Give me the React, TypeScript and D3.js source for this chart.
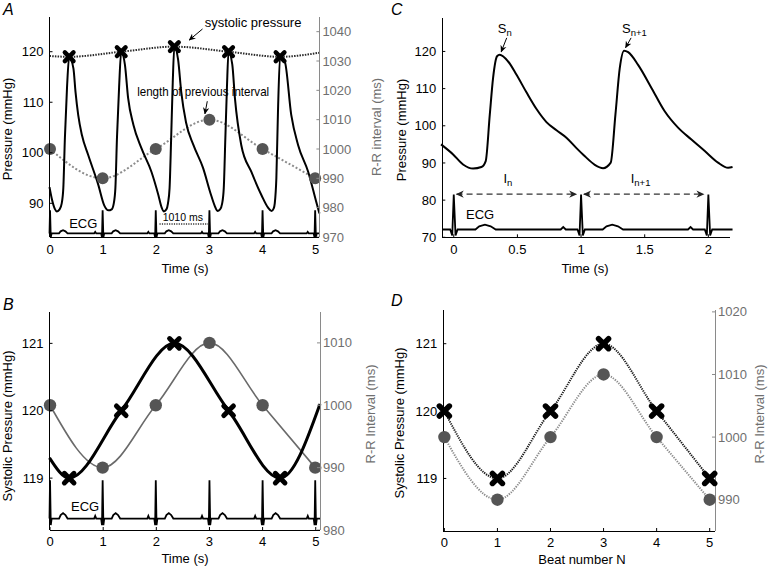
import React from "react";
import * as d3 from "d3";

const W = 770;
const H = 570;
const FONT = "'Liberation Sans', Arial, Helvetica, sans-serif";
const GREY_TXT = "#6f6f6f";
const GREY_AX = "#8a8a8a";
const DOT_FILL = "#555";

// ---- beats shared by panels A and B ----
const rPeakTimes = [0, 0.99, 1.99, 3.0, 4.0, 4.99]; // s
const rrPrev = [1000, 990, 1000, 1010, 1000, 990]; // ms, length of previous interval
const sysTimes = [0.36, 1.34, 2.34, 3.36, 4.33]; // s
const sysValues = [119, 120, 121, 120, 119]; // mmHg

// ---- panel A: arterial pressure trace ----
const pressTA = [
  -0.01, 0.04, 0.09, 0.13, 0.18, 0.22, 0.25, 0.28, 0.32, 0.36,
  0.44, 0.48, 0.53, 0.6, 0.72, 0.91, 1.02, 1.1, 1.16, 1.2, 1.23, 1.26, 1.3, 1.34,
  1.41, 1.47, 1.57, 1.72, 1.91, 2.04, 2.1, 2.14, 2.19, 2.22, 2.25, 2.28, 2.31, 2.34,
  2.41, 2.47, 2.56, 2.7, 2.88, 3.02, 3.1, 3.15, 3.2, 3.24, 3.27, 3.3, 3.33, 3.36,
  3.43, 3.48, 3.6, 3.79, 3.98, 4.1, 4.17, 4.21, 4.23, 4.26, 4.29, 4.33,
  4.42, 4.54, 4.67, 4.86, 5.01, 5.07,
];
const pressPA = [
  93.2, 90.6, 88.9, 88.4, 88.8, 90, 93, 103, 113, 119,
  116.7, 112, 107.5, 103.5, 99.5, 93.6, 89.6, 88.6, 88.8, 90, 93, 103, 113, 120,
  117.4, 110.8, 105.5, 100.9, 96.2, 91.6, 89.2, 88.4, 88.8, 90, 93, 103, 114, 121,
  118.5, 112, 106, 101.5, 97, 92, 89.5, 88.5, 88.8, 90, 93, 103, 113, 120,
  117.5, 110.8, 101.5, 96.2, 91.6, 89.2, 88.5, 89, 90, 95, 108, 119,
  118, 107.5, 101.5, 96.2, 90.3, 88,
];
// dotted systolic envelope: edge values
const envStartA = 119.15;
const envEndA = 119.8;

// ---- panel B: smooth curves ----
const sysCurveStartB = 119.3;
const sysCurveEndB = 120.1;

// ---- panel C: two beats ----
const pressTC = [
  -0.1, -0.005, 0.073, 0.152, 0.217, 0.251, 0.283, 0.309, 0.34, 0.361,
  0.427, 0.492, 0.571, 0.65, 0.728, 0.807, 0.885, 0.964, 1.03, 1.108, 1.173, 1.233,
  1.27, 1.304, 1.338, 1.37, 1.448, 1.553, 1.657, 1.762, 1.867, 1.972, 2.076, 2.155, 2.19,
];
const pressPC = [
  95, 92.3, 89.6, 88.5, 88.9, 90.5, 103, 112.9, 118.7, 119.1,
  117.3, 113.8, 109, 104.5, 101, 98.8, 96.8, 94, 91.8, 89.5, 88.6, 90.1,
  103, 115.5, 120.2, 119.8, 116.4, 110.2, 103.9, 99.5, 96.3, 93.2, 90.1, 88.7, 88.9,
];
const rPeakC = [0, 1, 2];
const peakTC = [0.361, 1.338];
const peakPC = [119.1, 120.2];
const peakSubC = ["n", "n+1"];

// ---- panel D: beat-by-beat ----
const beatN = [0, 1, 2, 3, 4, 5];
const sysD = [120, 119, 120, 121, 120, 119];
const rrD = [1000, 990, 1000, 1010, 1000, 990];

// ---- ECG beat template (offset from R wave in s, relative amplitude) ----
const ecgOffsets = [-0.16, -0.14, -0.12, -0.028, -0.012, 0, 0.014, 0.03, 0.17, 0.2, 0.245, 0.29, 0.33];
const ecgAmps = [0, 0.07, 0, 0, -0.17, 1, -0.17, 0, 0, 0.09, 0.14, 0.09, 0];

function ecgPoints(rTimes: number[], t0: number, t1: number) {
  const pts: [number, number][] = [[t0, 0]];
  rTimes.forEach((r) =>
    ecgOffsets.forEach((o, i) => {
      const t = r + o;
      if (t > t0 && t < t1) pts.push([t, ecgAmps[i]]);
    })
  );
  pts.push([t1, 0]);
  return pts.sort((a, b) => a[0] - b[0]);
}

const zip = (a: number[], b: number[]) => a.map((v, i) => [v, b[i]] as [number, number]);

function smoothPath(x: any, y: any, pts: [number, number][], curve: any = d3.curveMonotoneX) {
  return d3.line<[number, number]>().x((d) => x(d[0])).y((d) => y(d[1])).curve(curve)(pts) || "";
}

function Cross({ cx, cy, r = 4.5, w = 4.5 }: any) {
  return (
    <path
      d={`M${cx - r},${cy - r}L${cx + r},${cy + r}M${cx - r},${cy + r}L${cx + r},${cy - r}`}
      stroke="#000"
      strokeWidth={w}
      strokeLinecap="round"
      fill="none"
    />
  );
}

function LeftAxis({ y, x, ticks, fmt = String }: any) {
  const [y0, y1] = y.range();
  return (
    <g>
      <line x1={x} x2={x} y1={y0} y2={y1} stroke="#000" shapeRendering="crispEdges" />
      {ticks.map((t: number) => (
        <g key={t}>
          <line x1={x} x2={x + 3} y1={y(t)} y2={y(t)} stroke="#000" />
          <text x={x - 6} y={y(t)} dy="0.35em" textAnchor="end">{fmt(t)}</text>
        </g>
      ))}
    </g>
  );
}

function RightAxis({ y, x, ticks }: any) {
  const [y0, y1] = y.range();
  return (
    <g>
      <line x1={x} x2={x} y1={y0} y2={y1} stroke={GREY_AX} shapeRendering="crispEdges" />
      {ticks.map((t: number) => (
        <g key={t}>
          <line x1={x} x2={x - 3} y1={y(t)} y2={y(t)} stroke={GREY_AX} />
          <text x={x + 3} y={y(t)} dy="0.35em" textAnchor="start" fill={GREY_TXT}>{t}</text>
        </g>
      ))}
    </g>
  );
}

function BottomAxis({ x, y, ticks, off = 17 }: any) {
  const [x0, x1] = x.range();
  return (
    <g>
      <line x1={x0} x2={x1} y1={y} y2={y} stroke="#000" shapeRendering="crispEdges" />
      {ticks.map((t: number) => (
        <g key={t}>
          <line x1={x(t)} x2={x(t)} y1={y} y2={y - 3} stroke="#000" />
          <text x={x(t)} y={y + off} textAnchor="middle">{String(t)}</text>
        </g>
      ))}
    </g>
  );
}

function VTitle({ x, y, text, fill = "#000" }: any) {
  return (
    <text transform={`translate(${x},${y}) rotate(-90)`} textAnchor="middle" dy="0.35em" fill={fill}>
      {text}
    </text>
  );
}

function PanelA() {
  const x = d3.scaleLinear().domain([-0.01, 5.07]).range([49.5, 319.4]);
  const y = d3.scaleLinear().domain([83.33, 126.87]).range([237, 17]);
  const yr = d3.scaleLinear().domain([970, 1045]).range([237, 17]);
  const ecg = ecgPoints(rPeakTimes, -0.01, 5.07);
  const ecgBase = 84.04;
  const ecgGain = 4.6;
  const env = zip([-0.01, ...sysTimes, 5.07], [envStartA, ...sysValues, envEndA]);
  const rr = zip(rPeakTimes, rrPrev);
  return (
    <g>
      <text x={3} y={15} fontSize={16} fontStyle="italic">A</text>
      <path d={smoothPath(x, yr, rr)} fill="none" stroke="#8c8c8c" strokeWidth={2} strokeDasharray="2 2" />
      <path d={smoothPath(x, y, env)} fill="none" stroke="#2a2a2a" strokeWidth={2} strokeDasharray="1.5 1.2" />
      <path d={smoothPath(x, y, zip(pressTA, pressPA))} fill="none" stroke="#000" strokeWidth={2} />
      <path
        d={d3.line<[number, number]>().x((d) => x(d[0])).y((d) => y(ecgBase + ecgGain * d[1]))(ecg) || ""}
        fill="none"
        stroke="#000"
        strokeWidth={1.8}
      />
      {rr.map((d, i) => (
        <circle key={i} cx={x(d[0])} cy={yr(d[1])} r={6} fill={DOT_FILL} />
      ))}
      {sysTimes.map((t, i) => (
        <Cross key={i} cx={x(t)} cy={y(sysValues[i])} r={4.3} w={4.5} />
      ))}
      {/* annotations */}
      <text x={x(2.91)} y={y(124.9)}>systolic pressure</text>
      <line x1={x(2.87)} y1={y(124.5)} x2={x(2.62)} y2={y(122.3)} stroke="#000" strokeWidth={1} markerEnd="url(#arrSmall)" />
      <text x={x(1.64)} y={y(111.3)} textLength={132} lengthAdjust="spacingAndGlyphs">length of previous interval</text>
      <line x1={x(2.96)} y1={y(110.2)} x2={x(2.915)} y2={y(107.7)} stroke="#000" strokeWidth={1} markerEnd="url(#arrSmall)" />
      <line
        x1={x(rPeakTimes[2] + 0.07)}
        x2={x(rPeakTimes[3] - 0.02)}
        y1={y(85.9)}
        y2={y(85.9)}
        stroke="#333"
        strokeWidth={1.5}
        strokeDasharray="1.2 1.2"
      />
      <text x={x(2.12)} y={y(86.5)} fontSize={10.5}>{`${rrPrev[3]} ms`}</text>
      <text x={x(0.36)} y={y(85.05)}>ECG</text>
      <LeftAxis y={y} x={49.5} ticks={[90, 100, 110, 120]} />
      <RightAxis y={yr} x={319.4} ticks={d3.range(970, 1041, 10)} />
      <BottomAxis x={x} y={237} ticks={[0, 1, 2, 3, 4, 5]} />
      <text x={185} y={273} textAnchor="middle">Time (s)</text>
      <VTitle x={7.5} y={129} text="Pressure (mmHg)" />
      <VTitle x={376} y={127} text="R-R interval (ms)" fill={GREY_TXT} />
    </g>
  );
}

function PanelB() {
  const x = d3.scaleLinear().domain([-0.01, 5.08]).range([49.5, 320]);
  const y = d3.scaleLinear().domain([118.23, 121.47]).range([530, 311.7]);
  const yr = d3.scaleLinear().domain([980, 1015]).range([530, 311.7]);
  const ecg = ecgPoints(rPeakTimes, -0.01, 5.08);
  const ecgBase = 118.4;
  const ecgGain = 0.57;
  const sys = zip([-0.01, ...sysTimes, 5.08], [sysCurveStartB, ...sysValues, sysCurveEndB]);
  const rr = zip(rPeakTimes, rrPrev);
  return (
    <g>
      <text x={3} y={310} fontSize={16} fontStyle="italic">B</text>
      <path
        d={d3.line<[number, number]>().x((d) => x(d[0])).y((d) => y(ecgBase + ecgGain * d[1]))(ecg) || ""}
        fill="none"
        stroke="#000"
        strokeWidth={1.8}
      />
      <text x={x(0.395)} y={y(118.51)}>ECG</text>
      <path d={smoothPath(x, yr, rr)} fill="none" stroke="#6a6a6a" strokeWidth={1.6} />
      <path d={smoothPath(x, y, sys)} fill="none" stroke="#000" strokeWidth={3} />
      {rr.map((d, i) => (
        <circle key={i} cx={x(d[0])} cy={yr(d[1])} r={6.2} fill={DOT_FILL} />
      ))}
      {sysTimes.map((t, i) => (
        <Cross key={i} cx={x(t)} cy={y(sysValues[i])} r={4.8} w={5} />
      ))}
      <LeftAxis y={y} x={49.5} ticks={[119, 120, 121]} />
      <RightAxis y={yr} x={320} ticks={[980, 990, 1000, 1010]} />
      <BottomAxis x={x} y={530} ticks={[0, 1, 2, 3, 4, 5]} off={16} />
      <text x={185} y={563} textAnchor="middle">Time (s)</text>
      <VTitle x={7.5} y={426} text="Systolic Pressure (mmHg)" />
      <VTitle x={370} y={414} text="R-R Interval (ms)" fill={GREY_TXT} />
    </g>
  );
}

function PanelC() {
  const x = d3.scaleLinear().domain([-0.09, 2.17]).range([442.3, 730]);
  const y = d3.scaleLinear().domain([70, 129]).range([237.3, 18]);
  const ecg = ecgPoints(rPeakC, -0.09, 2.19);
  const ecgBase = 72.1;
  const ecgGain = 9.4;
  const arrowP = 81.6;
  return (
    <g>
      <text x={391} y={15} fontSize={16} fontStyle="italic">C</text>
      <path d={smoothPath(x, y, zip(pressTC, pressPC))} fill="none" stroke="#000" strokeWidth={2} />
      <path
        d={d3.line<[number, number]>().x((d) => x(d[0])).y((d) => y(ecgBase + ecgGain * d[1]))(ecg) || ""}
        fill="none"
        stroke="#000"
        strokeWidth={1.8}
      />
      <text x={x(0.096)} y={y(74.8)}>ECG</text>
      {rPeakC.slice(0, -1).map((r, i) => (
        <g key={i}>
          <line
            x1={x(r + 0.022)}
            x2={x(rPeakC[i + 1] - 0.037)}
            y1={y(arrowP)}
            y2={y(arrowP)}
            stroke="#333"
            strokeWidth={1.3}
            strokeDasharray="6 4"
            markerStart="url(#arrBig)"
            markerEnd="url(#arrBig)"
          />
          <text x={x(r + 0.39)} y={y(84.6)}>
            I<tspan fontSize={9.5} dy={3}>{peakSubC[i]}</tspan>
          </text>
        </g>
      ))}
      {peakTC.map((t, i) => (
        <g key={i}>
          <text x={x(t) - 2} y={y(125)}>
            S<tspan fontSize={9.5} dy={3}>{peakSubC[i]}</tspan>
          </text>
          <line
            x1={x(t) + 7}
            y1={y(125) + 5}
            x2={x(t) + 1.5}
            y2={y(peakPC[i]) - 3}
            stroke="#000"
            strokeWidth={1}
            markerEnd="url(#arrSmall)"
          />
        </g>
      ))}
      <LeftAxis y={y} x={442.3} ticks={[70, 80, 90, 100, 110, 120]} />
      <BottomAxis x={x} y={237.3} ticks={[0, 0.5, 1, 1.5, 2]} />
      <text x={585} y={273} textAnchor="middle">Time (s)</text>
      <VTitle x={401} y={130} text="Pressure (mmHg)" />
    </g>
  );
}

function PanelD() {
  const x = d3.scaleLinear().domain([-0.02, 5.1]).range([443.3, 715]);
  const y = d3.scaleLinear().domain([118.22, 121.5]).range([531, 310]);
  const yr = d3.scaleLinear().domain([985, 1020.3]).range([531, 310]);
  const sys = zip(beatN, sysD);
  const rr = zip(beatN, rrD);
  return (
    <g>
      <text x={391} y={306} fontSize={16} fontStyle="italic">D</text>
      <LeftAxis y={y} x={443.3} ticks={[119, 120, 121]} />
      <RightAxis y={yr} x={715} ticks={[990, 1000, 1010, 1020]} />
      <BottomAxis x={x} y={531} ticks={[0, 1, 2, 3, 4, 5]} off={16} />
      <path d={smoothPath(x, yr, rr)} fill="none" stroke="#8c8c8c" strokeWidth={2} strokeDasharray="1.3 1.2" />
      <path d={smoothPath(x, y, sys)} fill="none" stroke="#1a1a1a" strokeWidth={2} strokeDasharray="1.3 1" />
      {rr.map((d, i) => (
        <circle key={i} cx={x(d[0])} cy={yr(d[1])} r={6.2} fill={DOT_FILL} />
      ))}
      {sys.map((d, i) => (
        <Cross key={i} cx={x(d[0])} cy={y(d[1])} r={5} w={5.5} />
      ))}
      <text x={582} y={564} textAnchor="middle">Beat number N</text>
      <VTitle x={399} y={423} text="Systolic Pressure (mmHg)" />
      <VTitle x={759} y={414} text="R-R Interval (ms)" fill={GREY_TXT} />
    </g>
  );
}

export default function App() {
  return (
    <div style={{ position: "absolute", left: 0, top: 0, width: W, height: H, background: "#fff" }}>
      <svg width={W} height={H} style={{ display: "block", fontFamily: FONT }} fontSize={13}>
        <defs>
          <marker id="arrSmall" viewBox="0 0 10 10" refX={9} refY={5} markerWidth={7} markerHeight={7} markerUnits="userSpaceOnUse" orient="auto">
            <path d="M0,0.5 L10,5 L0,9.5 L3,5 Z" fill="#000" />
          </marker>
          <marker id="arrBig" viewBox="0 0 10 10" refX={9} refY={5} markerWidth={9} markerHeight={8} markerUnits="userSpaceOnUse" orient="auto-start-reverse">
            <path d="M0,0.5 L10,5 L0,9.5 L3,5 Z" fill="#222" />
          </marker>
        </defs>
        <PanelA />
        <PanelB />
        <PanelC />
        <PanelD />
      </svg>
    </div>
  );
}
